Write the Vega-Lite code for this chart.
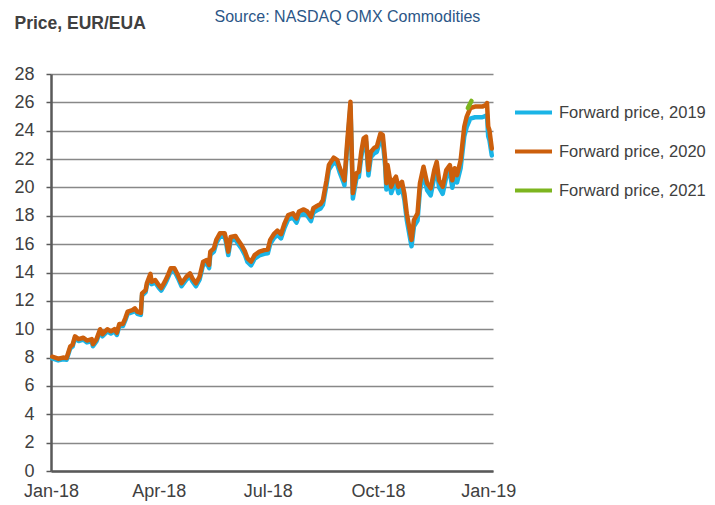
{
  "$schema": "https://vega.github.io/schema/vega-lite/v6.json",
  "width": 442,
  "height": 397,
  "autosize": {"type": "none"},
  "padding": {"left": 51, "top": 74, "right": 222, "bottom": 34},
  "background": "white",
  "config": {"view": {"stroke": null}, "font": "Liberation Sans"},
  "data": {
    "values": [
      {"date": "2018-01-02", "y2020": 8.06, "y2019": 7.94},
      {"date": "2018-01-07", "y2020": 7.92, "y2019": 7.80},
      {"date": "2018-01-11", "y2020": 8.00, "y2019": 7.88},
      {"date": "2018-01-14", "y2020": 7.97, "y2019": 7.85},
      {"date": "2018-01-17", "y2020": 8.77, "y2019": 8.65},
      {"date": "2018-01-19", "y2020": 8.90, "y2019": 8.78},
      {"date": "2018-01-21", "y2020": 9.50, "y2019": 9.37},
      {"date": "2018-01-24", "y2020": 9.30, "y2019": 9.17},
      {"date": "2018-01-28", "y2020": 9.40, "y2019": 9.27},
      {"date": "2018-01-31", "y2020": 9.20, "y2019": 9.07},
      {"date": "2018-02-04", "y2020": 9.30, "y2019": 9.15},
      {"date": "2018-02-05", "y2020": 8.95, "y2019": 8.80},
      {"date": "2018-02-08", "y2020": 9.30, "y2019": 9.15},
      {"date": "2018-02-11", "y2020": 10.00, "y2019": 9.85},
      {"date": "2018-02-13", "y2020": 9.65, "y2019": 9.50},
      {"date": "2018-02-17", "y2020": 10.00, "y2019": 9.85},
      {"date": "2018-02-20", "y2020": 9.85, "y2019": 9.70},
      {"date": "2018-02-23", "y2020": 10.00, "y2019": 9.85},
      {"date": "2018-02-25", "y2020": 9.75, "y2019": 9.60},
      {"date": "2018-02-27", "y2020": 10.37, "y2019": 10.22},
      {"date": "2018-03-02", "y2020": 10.37, "y2019": 10.22},
      {"date": "2018-03-04", "y2020": 10.77, "y2019": 10.62},
      {"date": "2018-03-06", "y2020": 11.24, "y2019": 11.09},
      {"date": "2018-03-10", "y2020": 11.35, "y2019": 11.20},
      {"date": "2018-03-12", "y2020": 11.47, "y2019": 11.32},
      {"date": "2018-03-14", "y2020": 11.24, "y2019": 11.09},
      {"date": "2018-03-17", "y2020": 11.16, "y2019": 11.01},
      {"date": "2018-03-18", "y2020": 12.53, "y2019": 12.38},
      {"date": "2018-03-21", "y2020": 12.76, "y2019": 12.61},
      {"date": "2018-03-22", "y2020": 13.23, "y2019": 13.08},
      {"date": "2018-03-25", "y2020": 13.90, "y2019": 13.72},
      {"date": "2018-03-26", "y2020": 13.35, "y2019": 13.18},
      {"date": "2018-03-29", "y2020": 13.47, "y2019": 13.30},
      {"date": "2018-04-01", "y2020": 13.10, "y2019": 12.92},
      {"date": "2018-04-03", "y2020": 12.90, "y2019": 12.72},
      {"date": "2018-04-06", "y2020": 13.35, "y2019": 13.16},
      {"date": "2018-04-08", "y2020": 13.70, "y2019": 13.51},
      {"date": "2018-04-11", "y2020": 14.30, "y2019": 14.10},
      {"date": "2018-04-14", "y2020": 14.30, "y2019": 14.10},
      {"date": "2018-04-17", "y2020": 13.80, "y2019": 13.60},
      {"date": "2018-04-20", "y2020": 13.24, "y2019": 13.03},
      {"date": "2018-04-24", "y2020": 13.70, "y2019": 13.49},
      {"date": "2018-04-27", "y2020": 13.94, "y2019": 13.73},
      {"date": "2018-04-29", "y2020": 13.60, "y2019": 13.39},
      {"date": "2018-05-02", "y2020": 13.24, "y2019": 13.03},
      {"date": "2018-05-05", "y2020": 13.70, "y2019": 13.49},
      {"date": "2018-05-08", "y2020": 14.76, "y2019": 14.55},
      {"date": "2018-05-11", "y2020": 14.88, "y2019": 14.66},
      {"date": "2018-05-13", "y2020": 14.53, "y2019": 14.31},
      {"date": "2018-05-14", "y2020": 15.47, "y2019": 15.25},
      {"date": "2018-05-17", "y2020": 15.70, "y2019": 15.48},
      {"date": "2018-05-19", "y2020": 16.30, "y2019": 16.07},
      {"date": "2018-05-22", "y2020": 16.76, "y2019": 16.53},
      {"date": "2018-05-26", "y2020": 16.76, "y2019": 16.53},
      {"date": "2018-05-27", "y2020": 16.40, "y2019": 16.17},
      {"date": "2018-05-29", "y2020": 15.47, "y2019": 15.23},
      {"date": "2018-05-31", "y2020": 16.50, "y2019": 16.26},
      {"date": "2018-06-04", "y2020": 16.57, "y2019": 16.33},
      {"date": "2018-06-06", "y2020": 16.30, "y2019": 16.05},
      {"date": "2018-06-09", "y2020": 15.94, "y2019": 15.69},
      {"date": "2018-06-12", "y2020": 15.47, "y2019": 15.22},
      {"date": "2018-06-14", "y2020": 15.00, "y2019": 14.75},
      {"date": "2018-06-17", "y2020": 14.76, "y2019": 14.50},
      {"date": "2018-06-20", "y2020": 15.23, "y2019": 14.97},
      {"date": "2018-06-24", "y2020": 15.47, "y2019": 15.21},
      {"date": "2018-06-28", "y2020": 15.58, "y2019": 15.32},
      {"date": "2018-07-01", "y2020": 15.62, "y2019": 15.35},
      {"date": "2018-07-03", "y2020": 16.30, "y2019": 16.02},
      {"date": "2018-07-06", "y2020": 16.70, "y2019": 16.42},
      {"date": "2018-07-09", "y2020": 16.95, "y2019": 16.66},
      {"date": "2018-07-12", "y2020": 16.70, "y2019": 16.40},
      {"date": "2018-07-15", "y2020": 17.47, "y2019": 17.17},
      {"date": "2018-07-18", "y2020": 18.05, "y2019": 17.75},
      {"date": "2018-07-22", "y2020": 18.17, "y2019": 17.87},
      {"date": "2018-07-25", "y2020": 17.82, "y2019": 17.52},
      {"date": "2018-07-27", "y2020": 18.30, "y2019": 18.00},
      {"date": "2018-07-31", "y2020": 18.45, "y2019": 18.15},
      {"date": "2018-08-03", "y2020": 18.30, "y2019": 18.00},
      {"date": "2018-08-06", "y2020": 17.93, "y2019": 17.63},
      {"date": "2018-08-08", "y2020": 18.53, "y2019": 18.23},
      {"date": "2018-08-11", "y2020": 18.69, "y2019": 18.38},
      {"date": "2018-08-14", "y2020": 18.83, "y2019": 18.52},
      {"date": "2018-08-16", "y2020": 19.10, "y2019": 18.78},
      {"date": "2018-08-19", "y2020": 20.50, "y2019": 20.17},
      {"date": "2018-08-21", "y2020": 21.58, "y2019": 21.25},
      {"date": "2018-08-25", "y2020": 22.10, "y2019": 21.77},
      {"date": "2018-08-28", "y2020": 21.93, "y2019": 21.60},
      {"date": "2018-08-30", "y2020": 21.40, "y2019": 21.06},
      {"date": "2018-09-02", "y2020": 20.76, "y2019": 20.41},
      {"date": "2018-09-03", "y2020": 20.50, "y2019": 20.15},
      {"date": "2018-09-05", "y2020": 22.87, "y2019": 22.52},
      {"date": "2018-09-08", "y2020": 26.05, "y2019": 25.70},
      {"date": "2018-09-10", "y2020": 19.60, "y2019": 19.22},
      {"date": "2018-09-13", "y2020": 21.00, "y2019": 20.64},
      {"date": "2018-09-15", "y2020": 21.10, "y2019": 20.74},
      {"date": "2018-09-17", "y2020": 22.50, "y2019": 22.14},
      {"date": "2018-09-19", "y2020": 23.46, "y2019": 23.10},
      {"date": "2018-09-21", "y2020": 23.58, "y2019": 23.22},
      {"date": "2018-09-23", "y2020": 21.23, "y2019": 20.85},
      {"date": "2018-09-25", "y2020": 22.50, "y2019": 22.13},
      {"date": "2018-09-28", "y2020": 22.80, "y2019": 22.42},
      {"date": "2018-09-30", "y2020": 22.88, "y2019": 22.50},
      {"date": "2018-10-03", "y2020": 23.80, "y2019": 23.35},
      {"date": "2018-10-05", "y2020": 23.70, "y2019": 23.25},
      {"date": "2018-10-07", "y2020": 21.93, "y2019": 21.48},
      {"date": "2018-10-08", "y2020": 20.30, "y2019": 19.85},
      {"date": "2018-10-09", "y2020": 21.58, "y2019": 21.13},
      {"date": "2018-10-12", "y2020": 20.05, "y2019": 19.60},
      {"date": "2018-10-14", "y2020": 20.50, "y2019": 20.05},
      {"date": "2018-10-16", "y2020": 20.76, "y2019": 20.31},
      {"date": "2018-10-18", "y2020": 20.05, "y2019": 19.60},
      {"date": "2018-10-21", "y2020": 20.40, "y2019": 19.95},
      {"date": "2018-10-23", "y2020": 19.58, "y2019": 19.13},
      {"date": "2018-10-25", "y2020": 18.17, "y2019": 17.72},
      {"date": "2018-10-28", "y2020": 16.76, "y2019": 16.31},
      {"date": "2018-10-29", "y2020": 16.30, "y2019": 15.85},
      {"date": "2018-10-31", "y2020": 17.70, "y2019": 17.25},
      {"date": "2018-11-03", "y2020": 18.17, "y2019": 17.67},
      {"date": "2018-11-05", "y2020": 20.30, "y2019": 19.80},
      {"date": "2018-11-08", "y2020": 21.46, "y2019": 20.96},
      {"date": "2018-11-11", "y2020": 20.30, "y2019": 19.80},
      {"date": "2018-11-14", "y2020": 19.94, "y2019": 19.44},
      {"date": "2018-11-17", "y2020": 21.23, "y2019": 20.73},
      {"date": "2018-11-19", "y2020": 21.80, "y2019": 21.30},
      {"date": "2018-11-21", "y2020": 20.50, "y2019": 20.00},
      {"date": "2018-11-24", "y2020": 20.05, "y2019": 19.55},
      {"date": "2018-11-27", "y2020": 21.23, "y2019": 20.73},
      {"date": "2018-11-30", "y2020": 21.58, "y2019": 21.08},
      {"date": "2018-12-02", "y2020": 20.50, "y2019": 19.98},
      {"date": "2018-12-04", "y2020": 21.35, "y2019": 20.83},
      {"date": "2018-12-06", "y2020": 20.87, "y2019": 20.35},
      {"date": "2018-12-09", "y2020": 21.93, "y2019": 21.38},
      {"date": "2018-12-12", "y2020": 24.28, "y2019": 23.60},
      {"date": "2018-12-14", "y2020": 24.98, "y2019": 24.25},
      {"date": "2018-12-15", "y2021": 25.60},
      {"date": "2018-12-17", "y2020": 25.60, "y2019": 24.85},
      {"date": "2018-12-18", "y2021": 26.10},
      {"date": "2018-12-21", "y2020": 25.70, "y2019": 24.95},
      {"date": "2018-12-27", "y2020": 25.70, "y2019": 24.95},
      {"date": "2018-12-30", "y2020": 25.80, "y2019": 25.05},
      {"date": "2018-12-31", "y2020": 25.95, "y2019": 25.10},
      {"date": "2019-01-01", "y2020": 24.30, "y2019": 23.60},
      {"date": "2019-01-02", "y2020": 24.05, "y2019": 23.35},
      {"date": "2019-01-04", "y2020": 22.75, "y2019": 22.25}
    ]
  },
  "transform": [
    {"fold": ["y2019", "y2020", "y2021"], "as": ["series", "price"]},
    {"filter": "isValid(datum.price)"}
  ],
  "mark": {"type": "line", "strokeWidth": 4.5, "strokeJoin": "round", "strokeCap": "round"},
  "encoding": {
    "x": {
      "field": "date",
      "type": "temporal",
      "scale": {"domain": ["2018-01-01", "2019-01-05"]},
      "axis": {
        "tickCount": {"interval": "month", "step": 3},
        "format": "%b-%y",
        "grid": false,
        "ticks": false,
        "domainColor": "#595959",
        "domainWidth": 2.5,
        "labelFont": "Liberation Sans",
        "labelFontSize": 18,
        "labelColor": "#404040",
        "labelPadding": 11,
        "labelFlush": false,
        "labelOverlap": false,
        "title": "Source: NASDAQ OMX Commodities",
        "titleFont": "Liberation Sans",
        "titleFontSize": 16,
        "titleFontWeight": "normal",
        "titleColor": "#2B5687",
        "titleAnchor": "start",
        "titleAlign": "left",
        "titleBaseline": "alphabetic",
        "titleX": 163,
        "titleY": -450
      }
    },
    "y": {
      "field": "price",
      "type": "quantitative",
      "scale": {"domain": [0, 28], "nice": false},
      "axis": {
        "values": [0, 2, 4, 6, 8, 10, 12, 14, 16, 18, 20, 22, 24, 26, 28],
        "format": "d",
        "grid": true,
        "gridColor": "#888888",
        "gridWidth": 1.5,
        "domainColor": "#595959",
        "domainWidth": 2.5,
        "tickColor": "#595959",
        "tickWidth": 1.5,
        "tickSize": 5,
        "labelFont": "Liberation Sans",
        "labelFontSize": 18,
        "labelColor": "#404040",
        "labelPadding": 12,
        "title": "Price, EUR/EUA",
        "titleFont": "Liberation Sans",
        "titleFontSize": 17.5,
        "titleFontWeight": "bold",
        "titleColor": "#404040",
        "titleAngle": 0,
        "titleAlign": "left",
        "titleBaseline": "alphabetic",
        "titleX": -37,
        "titleY": -46
      }
    },
    "color": {
      "field": "series",
      "type": "nominal",
      "scale": {"domain": ["y2019", "y2020", "y2021"], "range": ["#1AB4E6", "#CC5F0C", "#7DB51F"]},
      "legend": {
        "orient": "none",
        "legendX": 462,
        "legendY": 18,
        "padding": 0,
        "title": null,
        "symbolType": "stroke",
        "symbolSize": 1369,
        "symbolStrokeWidth": 4,
        "labelExpr": "'Forward price, ' + substring(datum.label, 1)",
        "labelFont": "Liberation Sans",
        "labelFontSize": 16.5,
        "labelColor": "#404040",
        "labelOffset": 5,
        "rowPadding": 10
      }
    }
  }
}
